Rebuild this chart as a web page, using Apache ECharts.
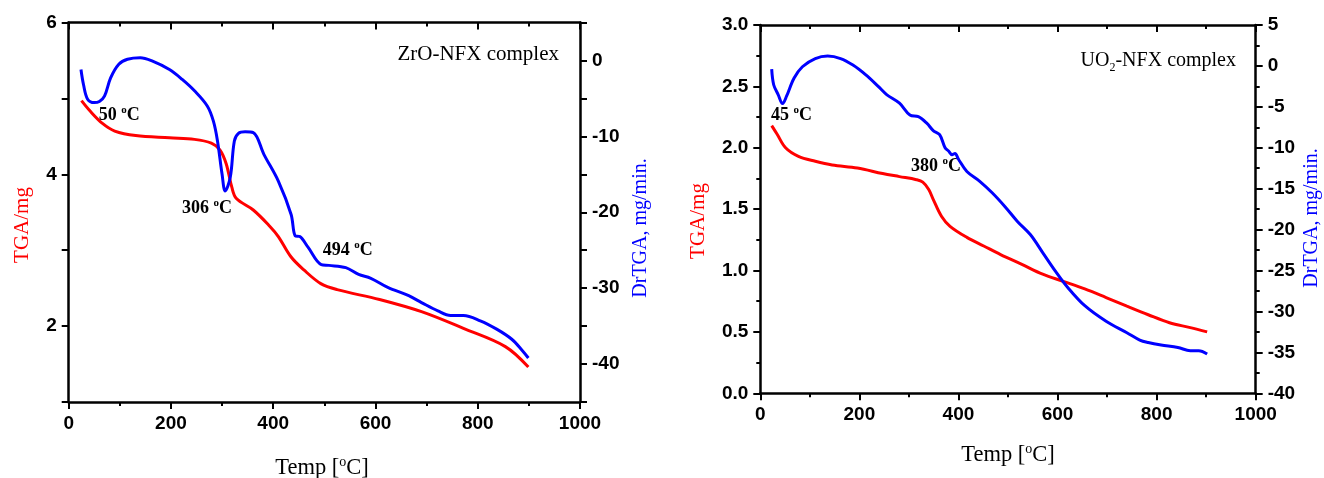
<!DOCTYPE html>
<html>
<head>
<meta charset="utf-8">
<script src="https://cdn.jsdelivr.net/npm/echarts@6/dist/echarts.min.js"></script>
<style>
  html, body { margin: 0; padding: 0; background: #fff; }
  #chart { width: 1324px; height: 478px; }
</style>
</head>
<body>
<div id="chart"></div>
<script>
// ZrO-NFX complex: TGA mass (mg) and derivative (mg/min) vs temperature (°C)
const zrTgaTemp = [25, 41, 66, 90, 131, 197, 246, 279, 296, 308, 319, 328, 361, 394, 410, 435, 460, 493, 525, 608, 690, 772, 854, 899];
const zrTga     = [4.97, 4.84, 4.67, 4.57, 4.51, 4.48, 4.46, 4.41, 4.32, 4.14, 3.83, 3.68, 3.53, 3.31, 3.18, 2.91, 2.74, 2.56, 2.48, 2.35, 2.19, 1.97, 1.73, 1.46];
const zrDrTemp  = [24, 29, 37, 50, 60, 70, 82, 98, 115, 140, 164, 197, 222, 246, 271, 283, 291, 300, 306, 316, 324, 332, 345, 361, 382, 410, 435, 443, 452, 468, 494, 509, 542, 567, 591, 624, 665, 690, 722, 747, 772, 805, 837, 866, 887, 899];
const zrDr      = [-1.2, -3.2, -5.1, -5.55, -5.4, -4.7, -2.3, -0.5, 0.15, 0.35, -0.1, -1.2, -2.5, -4.0, -6.0, -8.0, -10.6, -15.0, -17.2, -15.4, -10.6, -9.6, -9.4, -9.5, -12.4, -15.9, -20.3, -23.1, -23.2, -24.6, -26.9, -27.0, -27.3, -28.2, -28.7, -29.9, -31.0, -31.9, -33.0, -33.6, -33.6, -34.3, -35.4, -36.7, -38.2, -39.2];

// UO2-NFX complex
const uoTgaTemp = [23, 34, 51, 77, 111, 145, 196, 247, 281, 315, 328, 340, 349, 366, 383, 417, 451, 485, 528, 570, 613, 655, 698, 740, 783, 826, 868, 902];
const uoTga     = [2.18, 2.11, 2.00, 1.93, 1.89, 1.86, 1.835, 1.79, 1.765, 1.74, 1.72, 1.66, 1.58, 1.44, 1.36, 1.27, 1.20, 1.13, 1.05, 0.97, 0.91, 0.85, 0.78, 0.71, 0.64, 0.575, 0.535, 0.50];
const uoDrTemp  = [23, 27, 36, 45, 53, 68, 85, 111, 136, 162, 187, 213, 238, 255, 281, 302, 319, 336, 349, 362, 373, 380, 387, 393, 400, 417, 443, 468, 494, 519, 545, 570, 596, 621, 655, 698, 740, 766, 783, 809, 843, 868, 885, 902];
const uoDr      = [-0.4, -2.3, -3.5, -4.6, -3.7, -1.5, -0.1, 0.9, 1.2, 0.9, 0.1, -1.1, -2.5, -3.5, -4.55, -6.0, -6.2, -7.0, -7.9, -8.4, -10.0, -10.4, -10.85, -10.7, -11.4, -12.9, -14.1, -15.5, -17.2, -19.0, -20.6, -22.8, -25.1, -27.1, -29.3, -31.2, -32.6, -33.5, -33.8, -34.1, -34.4, -34.8, -34.8, -35.2];

// Axis ranges and tick steps
const tempRange = [0, 1000], tempStep = 200;
const zrTgaRange = [1, 6], zrTgaStep = 1;
const zrDrRange = [-45, 5], zrDrStep = 5;
const uoTgaRange = [0, 3], uoTgaStep = 0.5;
const uoDrRange = [-40, 5], uoDrStep = 5;

const zip = (xs, ys) => xs.map((x, i) => [x, ys[i]]);

const SANS = 'Liberation Sans, Arial, sans-serif';
const SERIF = 'Liberation Serif, Times New Roman, serif';
const RED = '#ff0000';
const BLUE = '#0000ff';

const tickLabel = { fontFamily: SANS, fontWeight: 'bold', fontSize: 19, color: '#000' };
const lineStyle = { color: '#000', width: 2.5 };
const tickStyle = { color: '#000', width: 2 };

function xAxis(gridIndex, top) {
  return {
    type: 'value', gridIndex, position: top ? 'top' : 'bottom',
    min: tempRange[0], max: tempRange[1], interval: tempStep,
    axisLine: { show: true, onZero: false, lineStyle },
    axisTick: { show: true, inside: !!top, length: 7, lineStyle: tickStyle },
    minorTick: { show: true, splitNumber: 2, length: 4, lineStyle: tickStyle },
    axisLabel: Object.assign({ show: !top, margin: 12, formatter: v => String(v) }, tickLabel),
    splitLine: { show: false }
  };
}

function yAxis(gridIndex, right, range, step, opts) {
  return Object.assign({
    type: 'value', gridIndex, position: right ? 'right' : 'left',
    min: range[0], max: range[1], interval: step,
    axisLine: { show: true, onZero: false, lineStyle },
    axisTick: { show: true, inside: false, length: 7, lineStyle: tickStyle },
    axisLabel: Object.assign({ margin: 12, formatter: v => String(v) }, tickLabel),
    splitLine: { show: false }
  }, opts || {});
}

function curve(xi, yi, data, color) {
  return {
    type: 'line', xAxisIndex: xi, yAxisIndex: yi, data,
    showSymbol: false, smooth: 0.35, animation: false,
    lineStyle: { color, width: 3 }
  };
}

// Rich-text helpers for superscript "o" and subscript "2"
const degRich = {
  b: { fontFamily: SERIF, fontWeight: 'bold', fontSize: 18, lineHeight: 20, fill: '#000' },
  s: { fontFamily: SERIF, fontWeight: 'bold', fontSize: 11, lineHeight: 11, verticalAlign: 'top', fill: '#000' }
};
function tempLabel(x, y, t) {
  return { type: 'text', x, y, silent: true,
    style: { text: '{b|' + t + ' }{s|o}{b|C}', rich: degRich, align: 'left', verticalAlign: 'middle' } };
}
const titleRich = {
  n: { fontFamily: SERIF, fontSize: 22.5, lineHeight: 26, fill: '#000' },
  s: { fontFamily: SERIF, fontSize: 14, lineHeight: 14, verticalAlign: 'top', fill: '#000' }
};
function xTitle(x, y) {
  return { type: 'text', x, y, silent: true,
    style: { text: '{n|Temp [}{s|o}{n|C]}', rich: titleRich, align: 'center', verticalAlign: 'middle' } };
}
function yTitle(x, y, text, color, size) {
  return { type: 'text', x, y, rotation: Math.PI / 2, silent: true,
    style: { text, fill: color, font: size + 'px ' + SERIF, align: 'center', verticalAlign: 'middle' } };
}

const chart = echarts.init(document.getElementById('chart'), null, { renderer: 'canvas' });
chart.setOption({
  animation: false,
  backgroundColor: '#fff',
  grid: [
    { left: 68.7, top: 22.5, width: 511.3, height: 379.5, outerBoundsMode: 'none' },
    { left: 760.3, top: 25, width: 495.4, height: 368.3, outerBoundsMode: 'none' }
  ],
  xAxis: [xAxis(0, false), xAxis(0, true), xAxis(1, false), xAxis(1, true)],
  yAxis: [
    yAxis(0, false, zrTgaRange, zrTgaStep, {
      axisLabel: Object.assign({ margin: 12, formatter: v => (v % 2 === 0 ? String(v) : '') }, tickLabel)
    }),
    yAxis(0, true, zrDrRange, zrDrStep, {
      axisLabel: Object.assign({ margin: 12, formatter: v => (v % 10 === 0 ? String(v) : '') }, tickLabel)
    }),
    yAxis(1, false, uoTgaRange, uoTgaStep, {
      minorTick: { show: true, splitNumber: 2, length: 4, lineStyle: tickStyle },
      axisLabel: Object.assign({ margin: 12, formatter: v => v.toFixed(1) }, tickLabel)
    }),
    yAxis(1, true, uoDrRange, uoDrStep, {
      minorTick: { show: true, splitNumber: 2, length: 4, lineStyle: tickStyle }
    })
  ],
  series: [
    curve(0, 0, zip(zrTgaTemp, zrTga), RED),
    curve(0, 1, zip(zrDrTemp, zrDr), BLUE),
    curve(2, 2, zip(uoTgaTemp, uoTga), RED),
    curve(2, 3, zip(uoDrTemp, uoDr), BLUE)
  ],
  graphic: [
    xTitle(322, 468),
    xTitle(1008, 455),
    yTitle(22, 225, 'TGA/mg', RED, 21),
    yTitle(641, 228, 'DrTGA, mg/min.', BLUE, 20),
    yTitle(698, 221, 'TGA/mg', RED, 21),
    yTitle(1312, 218, 'DrTGA, mg/min.', BLUE, 20),
    { type: 'text', x: 559, y: 54, silent: true,
      style: { text: 'ZrO-NFX complex', font: '21px ' + SERIF, fill: '#000', align: 'right', verticalAlign: 'middle' } },
    { type: 'text', x: 1236, y: 61, silent: true,
      style: {
        text: '{n|UO}{d|2}{n|-NFX complex}',
        rich: {
          n: { fontFamily: SERIF, fontSize: 20, lineHeight: 26, fill: '#000' },
          d: { fontFamily: SERIF, fontSize: 12, lineHeight: 12, verticalAlign: 'bottom', fill: '#000' }
        },
        align: 'right', verticalAlign: 'middle'
      } },
    tempLabel(98.7, 115, '50'),
    tempLabel(182, 208, '306'),
    tempLabel(322.7, 250, '494'),
    tempLabel(771, 115, '45'),
    tempLabel(911, 166, '380')
  ]
});
</script>
</body>
</html>
